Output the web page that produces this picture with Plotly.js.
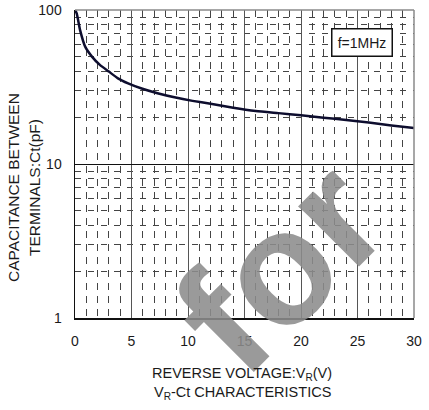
<!DOCTYPE html>
<html>
<head>
<meta charset="utf-8">
<script src="https://cdn.plot.ly/plotly-3.0.1.min.js"></script>
<style>
html,body{margin:0;padding:0;background:#fff;}
#chart{width:429px;height:410px;}
</style>
</head>
<body>
<div id="chart"></div>
<script>
// Reverse voltage (V)
const voltage = [0, 0.15, 0.45, 0.9, 1.5, 2.2, 3, 3.8, 4.7, 5.9, 7.3, 8.8, 10.4, 12, 14, 16, 18, 20, 22, 24, 26, 28, 30];
// Capacitance between terminals (pF)
const capacitance = [100, 95, 74, 57.8, 49.8, 44, 39.8, 36, 33.4, 30.9, 28.8, 27.1, 25.7, 24.6, 23.2, 22.1, 21.4, 20.7, 20.0, 19.3, 18.6, 17.8, 17.1];

const xTickVals = [0, 5, 10, 15, 20, 25, 30];
const xTickText = ["0", "5", "10", "15", "20", "25", "30"];
const yTickVals = [1, 10, 100];
const yTickText = ["1", "10", "100"];
const yMinorVals = [2, 3, 4, 5, 6, 7, 8, 9, 20, 30, 40, 50, 60, 70, 80, 90];

const xTitle = "REVERSE VOLTAGE:V<sub>R</sub>(V)";
const chartTitle = "V<sub>R</sub>-Ct CHARACTERISTICS";
const yTitle1 = "CAPACITANCE BETWEEN";
const yTitle2 = "TERMINALS:Ct(pF)";
const noteText = "f=1MHz";
const watermark = "for";

const font = "Liberation Sans, Arial, sans-serif";

const trace = {
  x: voltage,
  y: capacitance,
  type: "scatter",
  mode: "lines",
  line: {color: "#0d0d2e", width: 2.5, shape: "spline", smoothing: 0.5},
  hoverinfo: "skip"
};

const layout = {
  width: 429,
  height: 410,
  margin: {l: 75, r: 15, t: 10, b: 92},
  paper_bgcolor: "#ffffff",
  plot_bgcolor: "#ffffff",
  showlegend: false,
  font: {family: font, size: 14, color: "#1a1a1a"},
  xaxis: {
    range: [0, 30],
    tickvals: xTickVals,
    ticktext: xTickText,
    ticks: "",
    ticklabelstandoff: 10,
    showgrid: true,
    gridcolor: "#555555",
    gridwidth: 1,
    zeroline: false,
    showline: true,
    linecolor: "#111111",
    linewidth: 1.5,
    tickfont: {family: font, size: 14, color: "#1a1a1a"},
    minor: {dtick: 1, showgrid: true, gridcolor: "#444444", gridwidth: 1, griddash: "7px,6px", ticks: ""},
    fixedrange: true
  },
  yaxis: {
    type: "log",
    range: [0, 2],
    tickvals: yTickVals,
    ticktext: yTickText,
    ticks: "",
    ticklabelstandoff: 9,
    showgrid: true,
    gridcolor: "#111111",
    gridwidth: 1,
    zeroline: false,
    showline: true,
    linecolor: "#111111",
    linewidth: 1.5,
    tickfont: {family: font, size: 14, color: "#1a1a1a"},
    minor: {tickvals: yMinorVals, showgrid: true, gridcolor: "#444444", gridwidth: 1, griddash: "6px,7px", ticks: ""},
    fixedrange: true
  },
  shapes: [
    {type: "line", xref: "paper", yref: "paper", x0: 0, x1: 1, y0: 1, y1: 1, line: {color: "#8a8a8a", width: 1.5}},
    {type: "line", xref: "paper", yref: "paper", x0: 1, x1: 1, y0: 0, y1: 1, line: {color: "#8a8a8a", width: 1.5}}
  ],
  annotations: [
    {text: watermark, xref: "paper", yref: "paper", x: (279 - 75) / 339, y: (318 - 266) / 308,
     xanchor: "center", yanchor: "middle", textangle: -45, showarrow: false,
     font: {family: font, size: 162, color: "rgba(140,140,140,0.88)", weight: "bold"}},
    {text: noteText, xref: "paper", yref: "paper", x: (362 - 75) / 339, y: (318 - 42.5) / 308,
     xanchor: "center", yanchor: "middle", showarrow: false,
     width: 57, height: 24, bgcolor: "#ffffff", bordercolor: "#111111", borderwidth: 1.5, borderpad: 1,
     font: {family: font, size: 14, color: "#1a1a1a"}},
    {text: xTitle, xref: "paper", yref: "paper", x: (242 - 75) / 339, y: (318 - 374) / 308,
     xanchor: "center", yanchor: "middle", showarrow: false,
     font: {family: font, size: 14.5, color: "#1a1a1a"}},
    {text: chartTitle, xref: "paper", yref: "paper", x: (242 - 75) / 339, y: (318 - 393) / 308,
     xanchor: "center", yanchor: "middle", showarrow: false,
     font: {family: font, size: 14.5, color: "#1a1a1a"}},
    {text: yTitle1, xref: "paper", yref: "paper", x: (13 - 75) / 339, y: (318 - 188) / 308,
     xanchor: "center", yanchor: "middle", textangle: -90, showarrow: false,
     font: {family: font, size: 15.5, color: "#1a1a1a"}},
    {text: yTitle2, xref: "paper", yref: "paper", x: (34 - 75) / 339, y: (318 - 188) / 308,
     xanchor: "center", yanchor: "middle", textangle: -90, showarrow: false,
     font: {family: font, size: 15.5, color: "#1a1a1a"}}
  ]
};

Plotly.newPlot("chart", [trace], layout, {staticPlot: true, displayModeBar: false});
</script>
</body>
</html>
